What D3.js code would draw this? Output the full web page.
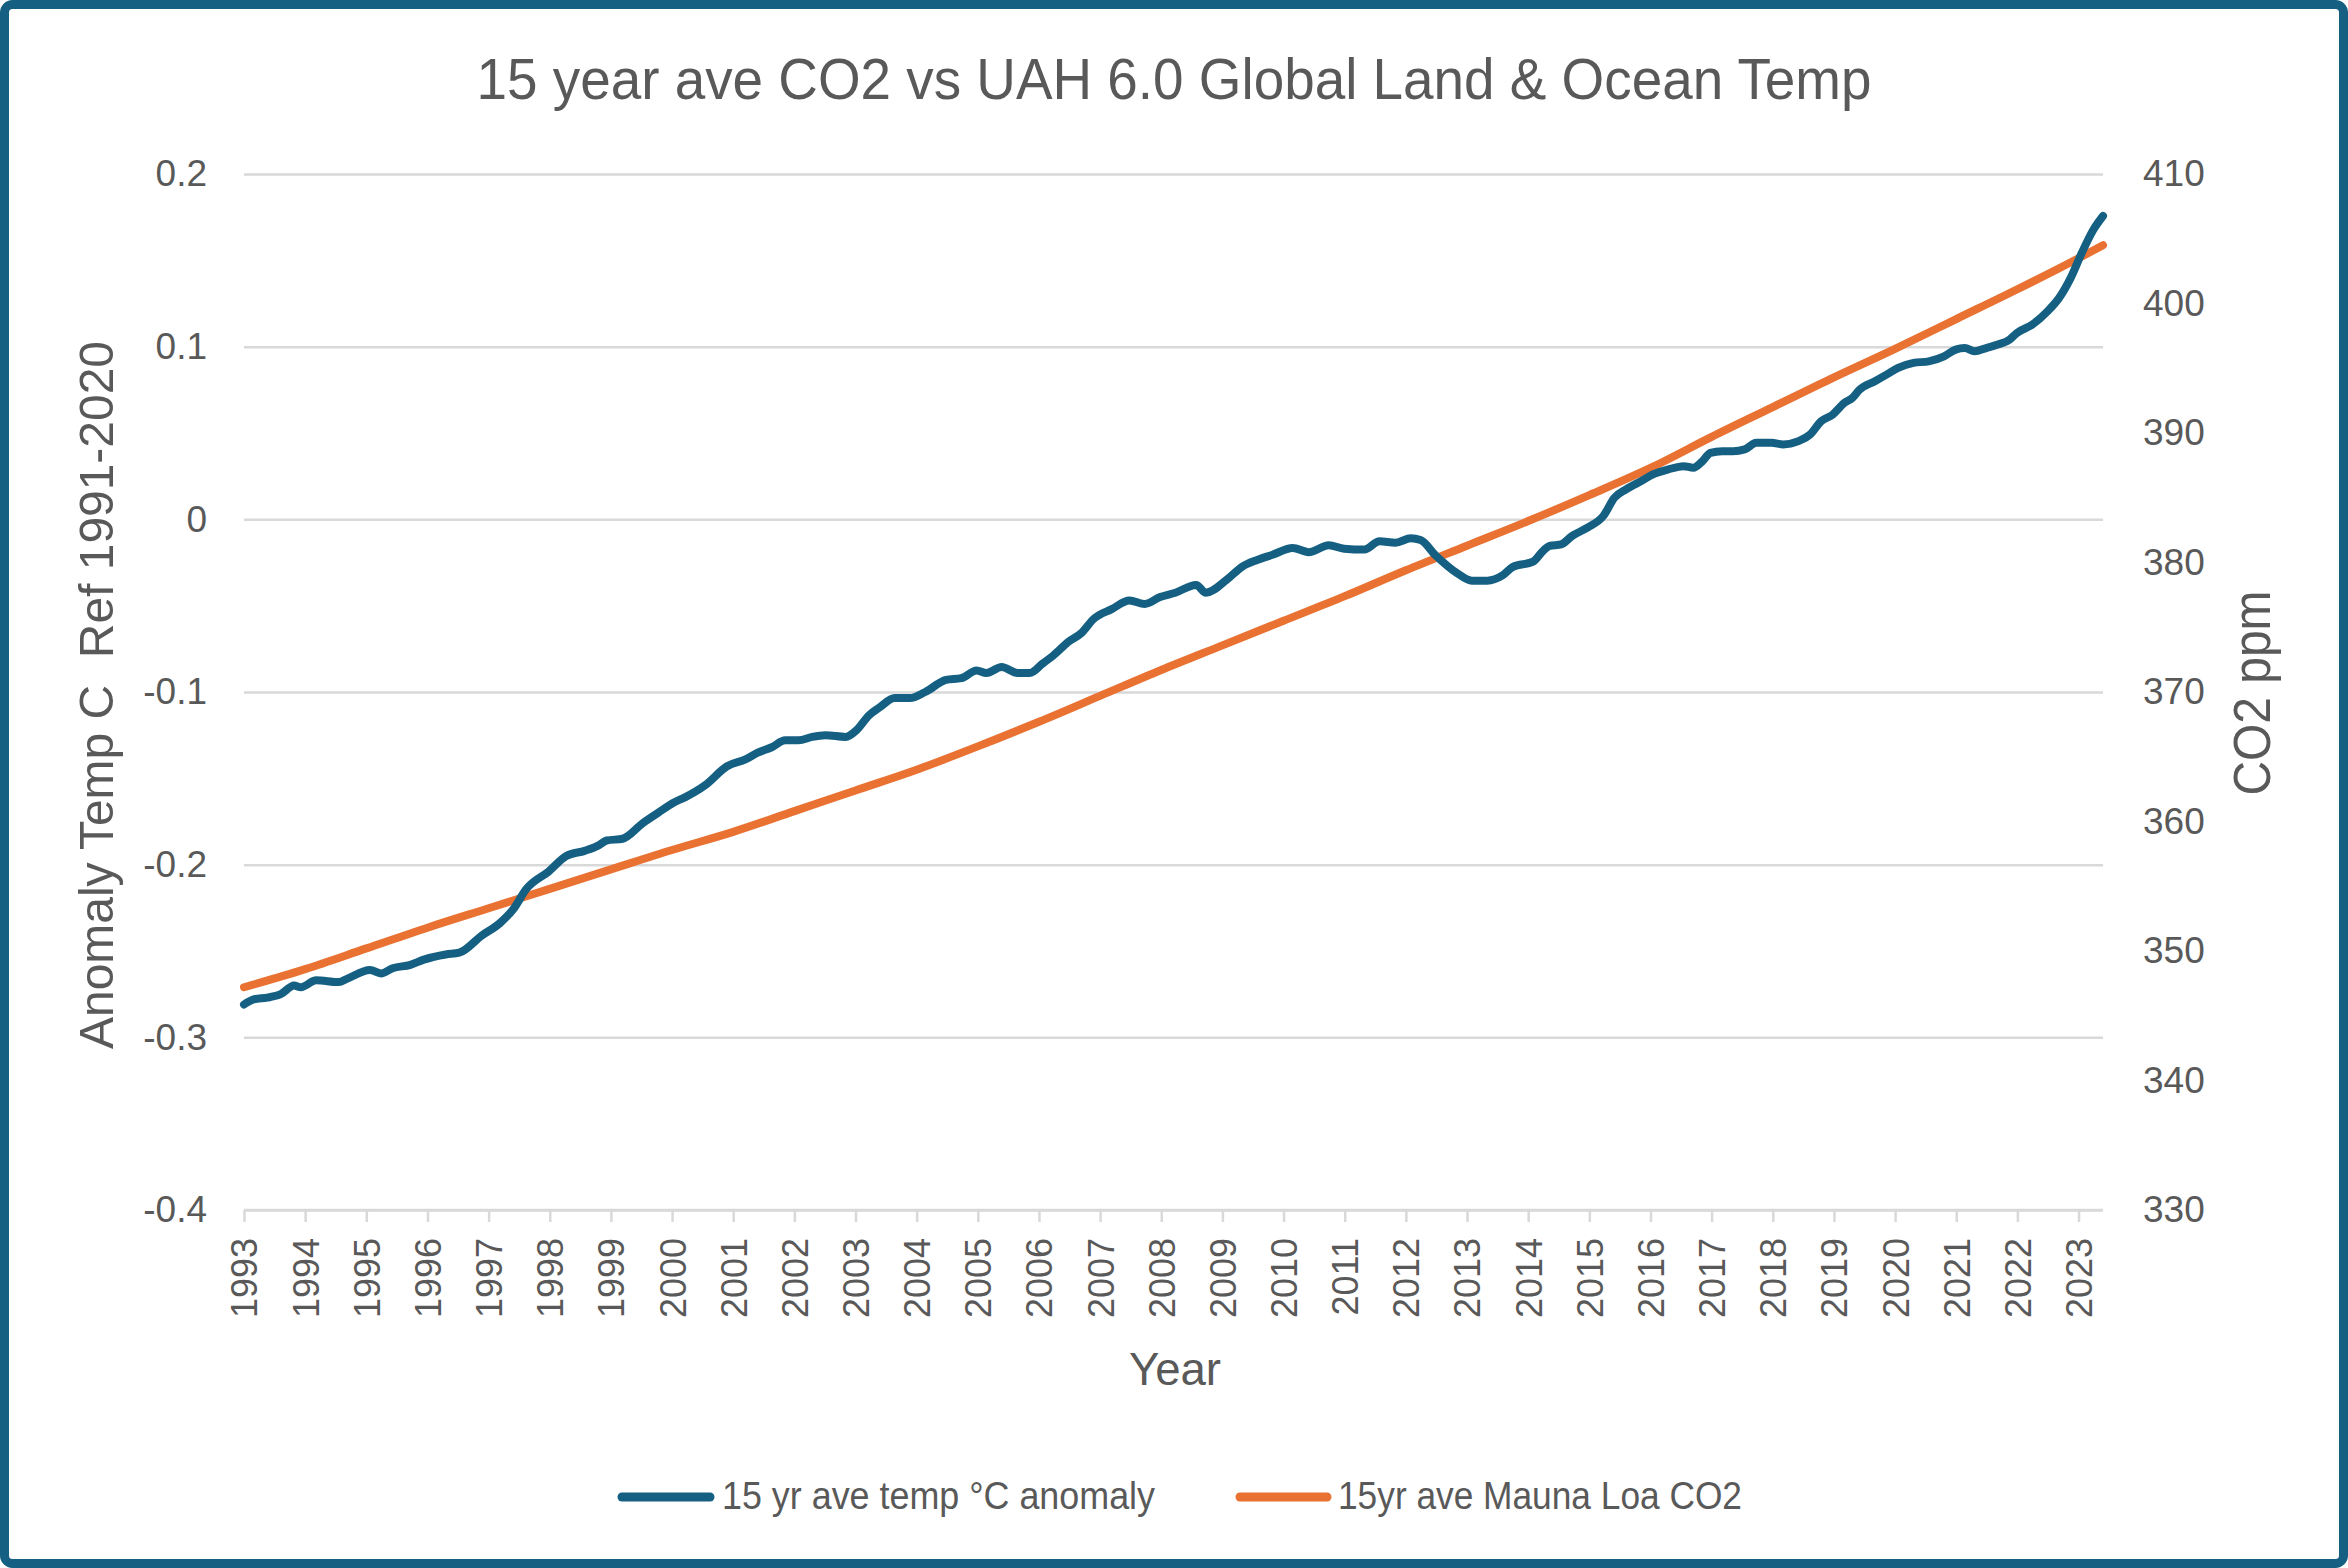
<!DOCTYPE html>
<html><head><meta charset="utf-8">
<script src="https://cdn.jsdelivr.net/npm/d3@7"></script>
<style>
html,body{margin:0;padding:0;background:#fff;}
svg{display:block;}
text{fill:#595959;}
.narrow{font-family:"Liberation Sans Narrow","Liberation Sans",Arial,sans-serif;white-space:pre;}
.tick text{font-family:"Liberation Sans",Arial,sans-serif;}
</style></head><body>
<svg id="chart" width="2348" height="1568"></svg>
<script>
// ---------------- data ----------------
const chartTitle = "15 year ave CO2 vs UAH 6.0 Global Land & Ocean Temp";
const leftAxisTitle = "Anomaly Temp C  Ref 1991-2020";
const rightAxisTitle = "CO2 ppm";
const xAxisTitle = "Year";
const seriesNames = ["15 yr ave temp \u00B0C anomaly", "15yr ave Mauna Loa CO2"];
const seriesColors = ["#156082", "#E97132"];

const yearTicks = d3.range(1993, 2024);
const leftTicks = [0.2, 0.1, 0, -0.1, -0.2, -0.3, -0.4];
const leftTickLabels = ["0.2", "0.1", "0", "-0.1", "-0.2", "-0.3", "-0.4"];
const rightTicks = [410, 400, 390, 380, 370, 360, 350, 340, 330];

const co2Years = [1993,1994,1995,1996,1997,1998,1999,2000,2001,2002,2003,2004,2005,2006,2007,2008,2009,2010,2011,2012,2013,2014,2015,2016,2017,2018,2019,2020,2021,2022,2023,2023.40];
const co2Values = [347.2,348.6,350.2,351.8,353.3,354.8,356.3,357.8,359.2,360.8,362.4,364.0,365.8,367.7,369.7,371.7,373.6,375.5,377.4,379.4,381.3,383.2,385.2,387.3,389.7,392.0,394.3,396.5,398.8,401.1,403.5,404.5];

const tempYears = [1993.00,1993.16,1993.38,1993.60,1993.82,1993.93,1994.18,1994.55,1994.69,1995.06,1995.24,1995.43,1995.72,1995.94,1996.30,1996.52,1996.89,1997.18,1997.40,1997.62,1997.98,1998.27,1998.57,1998.79,1998.93,1999.19,1999.52,1999.77,2000.03,2000.21,2000.54,2000.90,2001.20,2001.41,2001.63,2001.85,2002.07,2002.29,2002.51,2002.84,
2003.02,2003.22,2003.39,2003.64,2003.89,2004.14,2004.48,2004.73,2004.98,2005.14,2005.39,2005.65,2005.85,2006.06,2006.23,2006.48,2006.69,2006.90,2007.19,2007.48,2007.73,2007.98,2008.23,2008.57,2008.73,2009.07,2009.32,2009.57,2009.82,2010.15,2010.41,2010.74,2010.99,2011.32,2011.57,2011.83,2012.08,2012.24,2012.49,2012.83,2013.08,2013.33,2013.58,2013.75,2014.08,2014.25,
2014.35,2014.54,2014.72,2014.97,2015.23,2015.41,2015.60,2015.85,2016.04,2016.29,2016.54,2016.70,2016.85,2016.98,2017.17,2017.35,2017.54,2017.73,2017.98,2018.17,2018.42,2018.61,2018.79,2018.98,2019.17,2019.30,2019.42,2019.67,2019.86,2020.05,2020.30,2020.55,2020.80,2020.99,2021.14,2021.30,2021.49,2021.68,2021.87,2021.99,2022.24,2022.49,2022.68,2022.87,2023.05,2023.24,2023.40];
const tempValues = [-0.281,-0.278,-0.277,-0.275,-0.270,-0.271,-0.267,-0.268,-0.266,-0.261,-0.263,-0.260,-0.258,-0.255,-0.252,-0.251,-0.241,-0.234,-0.226,-0.214,-0.204,-0.195,-0.192,-0.189,-0.186,-0.185,-0.176,-0.170,-0.164,-0.161,-0.154,-0.143,-0.139,-0.135,-0.132,-0.128,-0.128,-0.126,-0.125,-0.126,
-0.122,-0.1135,-0.109,-0.1035,-0.1035,-0.100,-0.093,-0.092,-0.0875,-0.089,-0.0855,-0.089,-0.089,-0.0835,-0.079,-0.071,-0.066,-0.0575,-0.052,-0.047,-0.049,-0.045,-0.0425,-0.038,-0.0425,-0.035,-0.0275,-0.0235,-0.0205,-0.0166,-0.019,-0.015,-0.017,-0.0175,-0.0127,-0.0135,-0.011,-0.012,-0.021,-0.031,-0.0355,-0.0355,-0.0325,-0.0275,-0.0245,-0.018,
-0.0154,-0.0145,-0.0096,-0.0048,0.002,0.0125,0.0173,0.0222,0.026,0.0289,0.0308,0.0299,0.0337,0.0385,0.0395,0.0395,0.0405,0.0443,0.0443,0.0434,0.0453,0.0491,0.0568,0.0607,0.0674,0.0703,0.0751,0.080,0.0838,0.0877,0.0906,0.0915,0.0944,0.0983,0.0992,0.0973,0.0992,0.1012,0.104,0.1079,0.1127,0.1204,0.1281,0.1397,0.1541,0.1676,0.1757];

// ---------------- layout ----------------
const W = 2348, H = 1568;
const plot = {left: 244, right: 2103, top: 174, bottom: 1210};
const svg = d3.select("#chart");

// frame
svg.append("rect").attr("x", 4.5).attr("y", 4.5).attr("width", W - 9).attr("height", H - 9)
  .attr("rx", 8).attr("fill", "#fff").attr("stroke", "#156082").attr("stroke-width", 9);

const x = d3.scaleLinear().domain([1993, 2023.40]).range([plot.left, plot.right]);
const yL = d3.scaleLinear().domain([-0.4, 0.2]).range([plot.bottom, plot.top]);
const yR = d3.scaleLinear().domain([330, 410]).range([plot.bottom, plot.top]);

// gridlines
const grid = svg.append("g").attr("transform", `translate(${plot.left},0)`)
  .call(d3.axisLeft(yL).tickValues(leftTicks).tickSize(-(plot.right - plot.left)).tickFormat(""));
grid.select(".domain").remove();
grid.selectAll("line").attr("stroke", "#d9d9d9").attr("stroke-width", 2.5);

// left axis labels
const gl = svg.append("g").attr("transform", `translate(207,0)`)
  .call(d3.axisLeft(yL).tickValues(leftTicks).tickSize(0).tickPadding(0)
    .tickFormat((d, i) => leftTickLabels[i]));
gl.select(".domain").remove();
gl.selectAll("text").attr("font-size", 37).attr("fill", "#595959");

// right axis labels
const gr = svg.append("g").attr("transform", `translate(2143,0)`)
  .call(d3.axisRight(yR).tickValues(rightTicks).tickSize(0).tickPadding(0));
gr.select(".domain").remove();
gr.selectAll("text").attr("font-size", 37).attr("fill", "#595959");

// x axis
const gx = svg.append("g").attr("transform", `translate(0,${plot.bottom})`)
  .call(d3.axisBottom(x).tickValues(yearTicks).tickSize(12).tickFormat(d => String(d)));
gx.select(".domain").attr("stroke", "#d9d9d9").attr("stroke-width", 2.5)
  .attr("d", `M${plot.left},0H${plot.right}`);
gx.selectAll(".tick line").attr("stroke", "#d9d9d9").attr("stroke-width", 2.5);
gx.selectAll(".tick text").attr("font-size", 36).attr("fill", "#595959")
  .attr("transform", "rotate(-90)").attr("text-anchor", "end")
  .attr("x", -28).attr("y", 0).attr("dy", "0.36em");

// series
const co2Data = co2Years.map((yr, i) => ({yr, v: co2Values[i]}));
const tempData = tempYears.map((yr, i) => ({yr, v: tempValues[i]}));

svg.append("path").datum(co2Data)
  .attr("fill", "none").attr("stroke", seriesColors[1]).attr("stroke-width", 8)
  .attr("stroke-linecap", "round").attr("stroke-linejoin", "round")
  .attr("d", d3.line().x(d => x(d.yr)).y(d => yR(d.v)).curve(d3.curveMonotoneX));

svg.append("path").datum(tempData)
  .attr("fill", "none").attr("stroke", seriesColors[0]).attr("stroke-width", 8)
  .attr("stroke-linecap", "round").attr("stroke-linejoin", "round")
  .attr("d", d3.line().x(d => x(d.yr)).y(d => yL(d.v)).curve(d3.curveMonotoneX));

// titles
svg.append("text").attr("class", "narrow").attr("x", 1174).attr("y", 99)
  .attr("text-anchor", "middle").attr("font-size", 57)
  .attr("textLength", 1395).attr("lengthAdjust", "spacingAndGlyphs").text(chartTitle);

svg.append("text").attr("class", "narrow")
  .attr("transform", "translate(113,695) rotate(-90)")
  .attr("text-anchor", "middle").attr("font-size", 49)
  .attr("textLength", 708).attr("lengthAdjust", "spacingAndGlyphs").text(leftAxisTitle);

svg.append("text").attr("class", "narrow")
  .attr("transform", "translate(2270,693) rotate(-90)")
  .attr("text-anchor", "middle").attr("font-size", 51)
  .attr("textLength", 205).attr("lengthAdjust", "spacingAndGlyphs").text(rightAxisTitle);

svg.append("text").attr("class", "narrow").attr("x", 1175).attr("y", 1385)
  .attr("text-anchor", "middle").attr("font-size", 47)
  .attr("textLength", 92).attr("lengthAdjust", "spacingAndGlyphs").text(xAxisTitle);

// legend
const legendItems = [
  {x0: 618, x1: 714, tx: 722, tl: 433},
  {x0: 1236, x1: 1331, tx: 1338, tl: 404}
];
const lg = svg.append("g");
legendItems.forEach((it, i) => {
  lg.append("line").attr("x1", it.x0 + 4).attr("x2", it.x1 - 4).attr("y1", 1497).attr("y2", 1497)
    .attr("stroke", seriesColors[i]).attr("stroke-width", 9).attr("stroke-linecap", "round");
  lg.append("text").attr("class", "narrow").attr("x", it.tx).attr("y", 1509)
    .attr("font-size", 38).attr("textLength", it.tl).attr("lengthAdjust", "spacingAndGlyphs")
    .text(seriesNames[i]);
});
</script>
</body></html>
